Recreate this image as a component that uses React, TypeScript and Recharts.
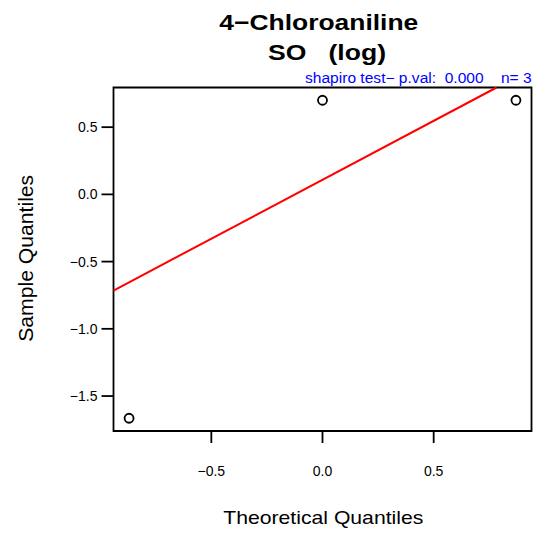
import { ScatterChart, Scatter, XAxis, YAxis, ReferenceLine, ReferenceArea } from "recharts";

const theoretical = [-0.87, 0, 0.87];
const sample = [-1.665, 0.7, 0.7];
const xTicks = [-0.5, 0, 0.5];
const yTicks = [-1.5, -1, -0.5, 0, 0.5];
const xDomain: [number, number] = [-0.94, 0.94];
const yDomain: [number, number] = [-1.76, 0.795];
const titleLines = ["4−Chloroaniline", "SO   (log)"];
const subtitle = "shapiro test− p.val:  0.000    n= 3";

const FONT = "'Liberation Sans', Arial, Helvetica, sans-serif";
const Q1_NORM = 0.6744898;

const points = theoretical.map((x, i) => ({ x, y: sample[i] }));

// qqline: through the 1st and 3rd quartiles (type 7)
function quantile(vals: number[], p: number) {
  const s = [...vals].sort((a, b) => a - b);
  const h = (s.length - 1) * p;
  const lo = Math.floor(h);
  const hi = Math.ceil(h);
  return s[lo] + (h - lo) * (s[hi] - s[lo]);
}
const q1 = quantile(sample, 0.25);
const q3 = quantile(sample, 0.75);
const slope = (q3 - q1) / (2 * Q1_NORM);
const intercept = q1 + slope * Q1_NORM;

function clipEnd(x: number) {
  let y = intercept + slope * x;
  if (y > yDomain[1]) { y = yDomain[1]; x = (y - intercept) / slope; }
  if (y < yDomain[0]) { y = yDomain[0]; x = (y - intercept) / slope; }
  return { x, y };
}
const lineSeg = [clipEnd(xDomain[0]), clipEnd(xDomain[1])];

const fmt = (v: number) => v.toFixed(1).replace("-", "−");

const Ring = (props: any) => (
  <circle cx={props.cx} cy={props.cy} r={4.5} fill="none" stroke="#000" strokeWidth={1.8} />
);

const XTick = (props: any) => (
  <text x={props.x} y={props.y} dy="0.71em" textAnchor="middle" fill="#000" fontSize={14} fontFamily={FONT}>
    {fmt(props.payload.value)}
  </text>
);

const YTick = (props: any) => (
  <text x={props.x} y={props.y} dy="0.355em" textAnchor="end" fill="#000" fontSize={14} fontFamily={FONT}>
    {fmt(props.payload.value)}
  </text>
);

export default function App() {
  return (
    <div style={{ position: "absolute", left: 0, top: 0, width: 537, height: 534, background: "#fff" }}>
      <ScatterChart width={537} height={534} margin={{ top: 87.5, right: 5.5, bottom: 43, left: 53.5 }}>
        <XAxis
          type="number"
          dataKey="x"
          domain={xDomain}
          ticks={xTicks}
          allowDataOverflow
          axisLine={false}
          tickLine={{ stroke: "#000", strokeWidth: 1.8 }}
          tickSize={12}
          tickMargin={23}
          height={60}
          tick={XTick}
        />
        <YAxis
          type="number"
          dataKey="y"
          domain={yDomain}
          ticks={yTicks}
          allowDataOverflow
          axisLine={false}
          tickLine={{ stroke: "#000", strokeWidth: 1.8 }}
          tickSize={12}
          tickMargin={4}
          width={60}
          tick={YTick}
        />
        <ReferenceArea
          x1={xDomain[0]}
          x2={xDomain[1]}
          y1={yDomain[0]}
          y2={yDomain[1]}
          fill="none"
          fillOpacity={0}
          stroke="#000"
          strokeWidth={1.8}
          ifOverflow="visible"
        />
        <ReferenceLine
          segment={lineSeg}
          stroke="#ff0000"
          strokeWidth={2}
          ifOverflow="visible"
        />
        <Scatter data={points} shape={Ring} isAnimationActive={false} />
      </ScatterChart>
      <svg
        width={537}
        height={534}
        style={{ position: "absolute", left: 0, top: 0, pointerEvents: "none" }}
      >
        <text x={318.8} y={30} textAnchor="middle" fontFamily={FONT} fontWeight="bold" fontSize={22}
          textLength={199} lengthAdjust="spacingAndGlyphs" style={{ whiteSpace: "pre" }}>
          {titleLines[0]}
        </text>
        <text x={327} y={60} textAnchor="middle" fontFamily={FONT} fontWeight="bold" fontSize={22}
          textLength={118} lengthAdjust="spacingAndGlyphs" style={{ whiteSpace: "pre" }}>
          {titleLines[1]}
        </text>
        <text x={305} y={83} fontFamily={FONT} fontSize={14} fill="#0000ff"
          textLength={226.7} lengthAdjust="spacingAndGlyphs" style={{ whiteSpace: "pre" }}>
          {subtitle}
        </text>
        <text x={323.3} y={524} textAnchor="middle" fontFamily={FONT} fontSize={18.5}
          textLength={200} lengthAdjust="spacingAndGlyphs">
          Theoretical Quantiles
        </text>
        <text transform="translate(33, 258.3) rotate(-90)" x={0} y={0} textAnchor="middle" fontFamily={FONT}
          fontSize={20} textLength={167} lengthAdjust="spacingAndGlyphs">
          Sample Quantiles
        </text>
      </svg>
    </div>
  );
}
